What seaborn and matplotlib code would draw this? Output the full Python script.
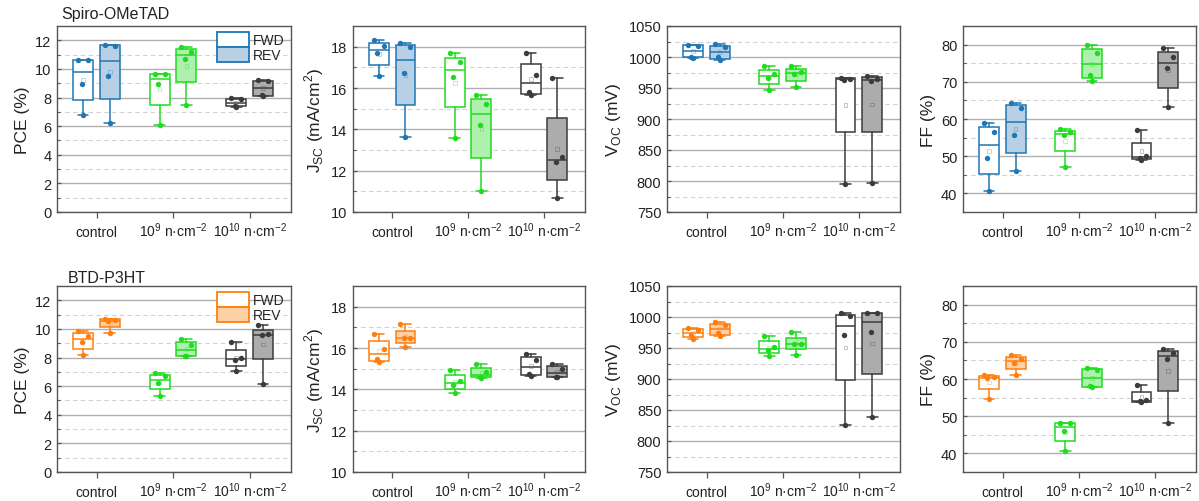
import numpy as np
import pandas as pd
import matplotlib
matplotlib.use("Agg")
import matplotlib.pyplot as plt
from matplotlib.patches import Patch
import seaborn as sns

# ---------------- data ----------------
groups = ["control",
          r"10$^\mathregular{9}$ n·cm$^\mathregular{-2}$",
          r"10$^\mathregular{10}$ n·cm$^\mathregular{-2}$"]
materials = ["Spiro-OMeTAD", "BTD-P3HT"]
metric_labels = ["PCE (%)",
                 r"J$_\mathregular{SC}$ (mA/cm$^\mathregular{2}$)",
                 r"V$_\mathregular{OC}$ (mV)",
                 "FF (%)"]

# Spiro-OMeTAD (per group: control, 1e9, 1e10)
spiro_pce_fwd = [[6.75, 8.95, 10.6, 10.6], [6.05, 8.94, 9.68, 9.68], [7.35, 7.4, 7.9, 7.95]]
spiro_pce_rev = [[6.22, 9.54, 11.6, 11.7], [7.47, 10.68, 11.21, 11.54], [8.1, 8.15, 9.15, 9.2]]
spiro_jsc_fwd = [[16.57, 17.69, 18.01, 18.3], [13.6, 16.52, 17.24, 17.67], [15.64, 15.8, 16.65, 17.69]]
spiro_jsc_rev = [[13.64, 16.75, 17.96, 18.2], [11.0, 14.21, 15.24, 15.65], [10.69, 12.4, 12.64, 16.46]]
spiro_voc_fwd = [[999, 1000, 1018, 1020], [946, 966, 972.5, 985], [795, 963, 965, 966]]
spiro_voc_rev = [[995, 1000, 1016, 1021], [951, 973, 976.3, 986], [797, 962, 965, 970]]
spiro_ff_fwd = [[40.7, 49.6, 56.6, 58.9], [47.0, 55.6, 56.4, 57.2], [48.9, 49.6, 50.0, 57.1]]
spiro_ff_rev = [[46.0, 55.7, 62.9, 64.4], [70.1, 71.7, 77.7, 80.0], [63.3, 73.6, 76.7, 79.1]]

# BTD-P3HT
btd_pce_fwd = [[8.17, 9.08, 9.52, 9.88], [5.32, 6.22, 6.71, 6.9], [7.06, 7.8, 7.95, 9.1]]
btd_pce_rev = [[9.75, 10.55, 10.6, 10.72], [8.08, 8.12, 8.87, 9.27], [6.15, 9.58, 9.62, 10.26]]
btd_jsc_fwd = [[15.3, 15.46, 15.94, 16.7], [13.82, 14.22, 14.42, 14.95], [14.63, 14.75, 15.41, 15.73]]
btd_jsc_rev = [[16.06, 16.47, 16.5, 17.15], [14.55, 14.6, 14.82, 15.22], [14.58, 14.6, 15.0, 15.25]]
btd_voc_fwd = [[965, 971, 979, 982], [937, 946, 951, 970], [826, 971, 1001, 1006]]
btd_voc_rev = [[969, 974, 987, 992], [939.5, 957, 957, 976], [839, 976, 1007, 1007]]
btd_ff_fwd = [[54.6, 60.2, 60.5, 61.0], [40.6, 46.0, 48.3, 48.3], [53.7, 54.0, 54.4, 58.5]]
btd_ff_rev = [[61.0, 64.2, 65.3, 66.5], [57.8, 58.0, 62.3, 63.0], [48.2, 65.3, 67.0, 68.1]]

panels = [
    [(spiro_pce_fwd, spiro_pce_rev), (spiro_jsc_fwd, spiro_jsc_rev),
     (spiro_voc_fwd, spiro_voc_rev), (spiro_ff_fwd, spiro_ff_rev)],
    [(btd_pce_fwd, btd_pce_rev), (btd_jsc_fwd, btd_jsc_rev),
     (btd_voc_fwd, btd_voc_rev), (btd_ff_fwd, btd_ff_rev)],
]

# ---------------- styling ----------------
sns.set_theme(style="white")
plt.rcParams["font.family"] = ["Liberation Sans", "DejaVu Sans"]
plt.rcParams["axes.unicode_minus"] = True

blue, green, gray, orange = "#1f77b4", "#1fdc1f", "#3c3c3c", "#ff7f0e"
fills = {blue: "#b7d0e6", green: "#aef0ae", gray: "#acacac", orange: "#fdd0a6"}
row_colors = [[blue, green, gray], [orange, green, gray]]

ylims = [(0, 13), (10, 19), (750, 1050), (35, 85)]
ymajor = [np.arange(0, 13, 2), np.arange(10, 19, 2), np.arange(750, 1051, 50), np.arange(40, 81, 10)]
yminor = [np.arange(1, 13, 2), np.arange(11, 19, 2), np.arange(775, 1050, 50), np.arange(35, 86, 10)]

W, H = 1199, 502
lefts = [57, 353, 667, 963]
widths = [234, 232, 233, 233]
rows_px = [(27, 213), (287, 473)]

fig = plt.figure(figsize=(W / 100, H / 100), dpi=100)

scan_offsets = [-0.18, 0.17]
pt_offsets = [0.0, -0.02, 0.065, -0.065]
spine_col = "#555555"
txt_col = "#222222"

for r in range(2):
    top, bot = rows_px[r]
    for c in range(4):
        ax = fig.add_axes([lefts[c] / W, 1 - bot / H, widths[c] / W, (bot - top) / H])
        ax.set_axisbelow(True)
        for g in range(3):
            col = row_colors[r][g]
            for s in range(2):
                vals = np.array(panels[r][c][s][g], dtype=float)
                pos = g + 1 + scan_offsets[s]
                q1, med, q3 = np.percentile(vals, [25, 50, 75], method="midpoint")
                stats = [dict(med=med, q1=q1, q3=q3, whislo=vals.min(), whishi=vals.max(), fliers=[])]
                face = "white" if s == 0 else fills[col]
                ax.bxp(stats, positions=[pos], widths=0.26, capwidths=0.14,
                       showfliers=False, patch_artist=True, manage_ticks=False,
                       boxprops=dict(facecolor=face, edgecolor=col, linewidth=1.1),
                       medianprops=dict(color=col, linewidth=1.1),
                       whiskerprops=dict(color=col, linewidth=1.1),
                       capprops=dict(color=col, linewidth=1.1))
                xs = pos + np.array(pt_offsets[:len(vals)])
                df = pd.DataFrame({"x": xs, "y": vals})
                sns.scatterplot(data=df, x="x", y="y", ax=ax, color=col, s=15,
                                linewidth=0, zorder=5, legend=False)
                ax.scatter([pos], [vals.mean()], marker="s", s=7, facecolor="none",
                           edgecolor=col, alpha=0.3, linewidth=0.7, zorder=4)
        ax.set_xlim(0.48, 3.535)
        ax.set_ylim(*ylims[c])
        ax.set_xticks([1, 2, 3])
        ax.set_xticklabels(groups)
        for lbl in ax.get_xticklabels():
            lbl.set_verticalalignment("baseline")
        ax.set_yticks(ymajor[c])
        ax.set_yticks(yminor[c], minor=True)
        ax.grid(which="major", axis="y", color="#b0b0b0", linewidth=1.0, linestyle="-")
        ax.grid(which="minor", axis="y", color="#d2d2d2", linewidth=0.8, linestyle=(0, (4, 3)))
        ax.grid(which="major", axis="x", visible=False)
        ax.set_xlabel("")
        ax.set_ylabel(metric_labels[c], fontsize=12.5, color=txt_col, labelpad=4)
        ax.tick_params(axis="x", which="major", direction="out", length=4, width=0.9,
                       color=spine_col, labelsize=10, labelcolor=txt_col, pad=13.5, bottom=True)
        ax.tick_params(axis="y", which="major", direction="in", length=3, width=0.9,
                       color=spine_col, labelsize=10.5, labelcolor=txt_col, pad=4, left=True)
        ax.tick_params(axis="y", which="minor", direction="in", length=2, width=0.8,
                       color=spine_col, left=True)
        for sp in ax.spines.values():
            sp.set_color(spine_col)
            sp.set_linewidth(1.0)
            sp.set_visible(True)
        if c == 0:
            main = row_colors[r][0]
            handles = [Patch(facecolor="white", edgecolor=main, linewidth=1.3),
                       Patch(facecolor=fills[main], edgecolor=main, linewidth=1.3)]
            ax.legend(handles, ["FWD", "REV"], loc="upper right", frameon=False,
                      fontsize=10, handlelength=2.3, handleheight=1.25, labelspacing=0.0,
                      handletextpad=0.3, borderaxespad=0.2, borderpad=0.25)
            tx = 0.017 if r == 0 else 0.047
            ty = 1.065 if r == 0 else 1.048
            ax.text(tx, ty, materials[r], transform=ax.transAxes, fontsize=11.5,
                    ha="left", va="center", color=txt_col)

fig.savefig("out.png", dpi=100)
